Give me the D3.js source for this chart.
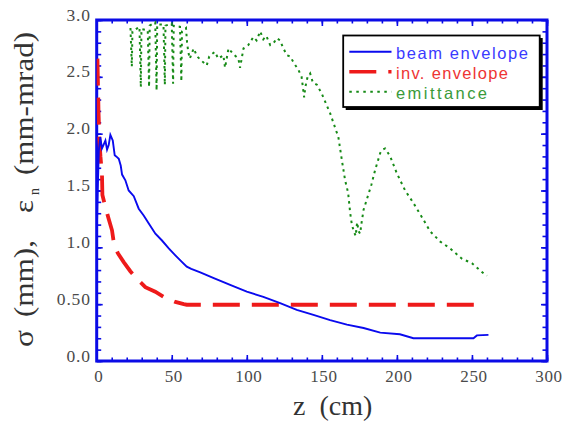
<!DOCTYPE html>
<html><head><meta charset="utf-8">
<script src="https://cdn.jsdelivr.net/npm/d3@7"></script>
<style>
html,body{margin:0;padding:0;background:#fff;}
svg{display:block;}
</style></head>
<body>
<svg id="chart" width="563" height="422"></svg>
<script>
// ---------- data ----------
const seriesNames = ["beam envelope", "inv. envelope", "emittance"];
const xTickValues = [0, 50, 100, 150, 200, 250, 300];
const yTickValues = [0, 0.5, 1.0, 1.5, 2.0, 2.5, 3.0];
const yTickLabels = ["0.0", "0.50", "1.0", "1.5", "2.0", "2.5", "3.0"];

const beamZ = [0, 0.7, 1.4, 2.4, 3.5, 4.5, 5.8, 6.9, 8, 9.1, 10.7, 12, 13, 14.7, 16, 16.9, 19.1, 21.3, 24.7, 28, 31.3, 34.7, 39.1, 43.5, 48, 52.4, 56.9, 60, 63, 69, 78, 88.9, 100, 111, 122.2, 133.3, 144.4, 155.5, 166.7, 177.8, 188.9, 202, 211, 230, 251, 253.3, 261];
const beamV = [1.1, 1.5, 1.85, 1.97, 1.87, 1.9, 1.94, 1.86, 1.9, 1.99, 1.94, 1.81, 1.8, 1.78, 1.72, 1.64, 1.59, 1.5, 1.45, 1.34, 1.28, 1.21, 1.12, 1.06, 0.99, 0.93, 0.87, 0.83, 0.81, 0.78, 0.73, 0.67, 0.61, 0.565, 0.51, 0.45, 0.405, 0.36, 0.32, 0.29, 0.25, 0.235, 0.2, 0.2, 0.2, 0.225, 0.23];

const invZ = [0.5, 1.2, 1.8, 2.5, 3.5, 3.8, 5.5, 8, 10.2, 11.3, 14, 18, 22.4, 27, 32.4, 39, 45, 52.4, 58, 60, 257];
const invV = [2.66, 2.2, 1.95, 1.8, 1.65, 1.46, 1.37, 1.25, 1.15, 1.05, 0.95, 0.87, 0.79, 0.72, 0.65, 0.61, 0.56, 0.52, 0.5, 0.495, 0.495];

const emitZ = [22.5, 23.4, 23.8, 28.5, 29.4, 29.8, 34, 34.9, 35.3, 39, 39.9, 40.3, 44.5, 45.4, 45.8, 50, 50.9, 51.3, 55.5, 56.4, 56.8, 59.5, 60.2, 61, 62, 64.6, 66.9, 70, 73.3, 75, 78.7, 81, 84.4, 85.5, 87.8, 91, 94.4, 95.5, 97.8, 101, 104.4, 106.5, 108.9, 111, 113, 115.6, 118, 120, 122.2, 124, 126.7, 128.9, 131, 134.4, 136.5, 138.2, 139, 140.5, 142.2, 144, 146.7, 150, 155.5, 161, 163.3, 165.5, 167.5, 168.9, 170, 171.1, 172.5, 173.5, 174.5, 175.5, 176.5, 177.8, 181.1, 183, 185.5, 188.9, 190.5, 192.2, 195.5, 200, 205.5, 211, 217.8, 222.2, 228.9, 235.5, 243.3, 250, 257.8, 260];
const emitV = [2.93, 2.59, 2.9, 2.94, 2.41, 2.92, 2.91, 2.41, 2.95, 2.98, 2.38, 2.96, 2.96, 2.43, 2.95, 2.97, 2.44, 2.95, 2.94, 2.46, 2.9, 2.93, 2.8, 2.72, 2.66, 2.75, 2.68, 2.64, 2.6, 2.68, 2.72, 2.66, 2.69, 2.58, 2.75, 2.7, 2.66, 2.58, 2.75, 2.78, 2.85, 2.82, 2.9, 2.83, 2.86, 2.78, 2.8, 2.84, 2.82, 2.76, 2.69, 2.68, 2.63, 2.56, 2.5, 2.32, 2.41, 2.5, 2.53, 2.45, 2.43, 2.35, 2.18, 1.97, 1.77, 1.59, 1.48, 1.3, 1.2, 1.15, 1.1, 1.22, 1.14, 1.12, 1.22, 1.33, 1.47, 1.55, 1.68, 1.83, 1.86, 1.87, 1.8, 1.65, 1.5, 1.39, 1.24, 1.14, 1.05, 0.99, 0.9, 0.86, 0.77, 0.75];

// ---------- layout ----------
const svg = d3.select("#chart");
const L = 96.7, R = 547, T = 20, B = 361;
const axisColor = "#0b0be6";
const colors = ["#0a0aee", "#ee1a1a", "#168a16"];
const textColors = ["#3a3aff", "#ee3434", "#3a9a3a"];
const serif = "'Liberation Serif','Times New Roman',Times,serif";
const sans = "'Liberation Sans',Arial,Helvetica,sans-serif";

const x = d3.scaleLinear().domain([0, 300]).range([L, R]);
const y = d3.scaleLinear().domain([0, 3]).range([B, T]);

svg.append("defs").append("clipPath").attr("id", "clip")
  .append("rect").attr("x", L).attr("y", T).attr("width", R - L).attr("height", B - T);

// ---------- ticks (inward, all 4 sides) ----------
const xMinor = d3.range(0, 301, 10);
const yMinor = d3.range(0, 31, 1).map(d => d / 10);
function tickAxis(gen, scale, vals, size, tr) {
  const g = svg.append("g").attr("transform", tr)
    .call(gen(scale).tickValues(vals).tickSize(size).tickFormat(""));
  g.select(".domain").remove();
  g.selectAll(".tick line").attr("stroke", axisColor).attr("stroke-width", 1.6);
}
tickAxis(d3.axisBottom, x, xMinor, -3.5, `translate(0,${B})`);
tickAxis(d3.axisBottom, x, xTickValues, -6, `translate(0,${B})`);
tickAxis(d3.axisTop, x, xMinor, -3.5, `translate(0,${T})`);
tickAxis(d3.axisTop, x, xTickValues, -6, `translate(0,${T})`);
tickAxis(d3.axisLeft, y, yMinor, -4.5, `translate(${L},0)`);
tickAxis(d3.axisLeft, y, yTickValues, -6, `translate(${L},0)`);
tickAxis(d3.axisRight, y, yMinor, -4.5, `translate(${R},0)`);
tickAxis(d3.axisRight, y, yTickValues, -6, `translate(${R},0)`);

// frame
svg.append("rect").attr("x", L).attr("y", T).attr("width", R - L).attr("height", B - T)
  .attr("fill", "none").attr("stroke", axisColor).attr("stroke-width", 3);

// tick labels
const xLab = svg.append("g").attr("transform", `translate(0,${B})`)
  .call(d3.axisBottom(x).tickValues(xTickValues).tickSize(0).tickPadding(0).tickFormat(d3.format("d")));
xLab.select(".domain").remove();
xLab.selectAll("text").attr("y", 21).attr("dy", 0).attr("dx", 1.5)
  .attr("font-family", serif).attr("font-size", 17).attr("fill", "#4a4a4a").attr("letter-spacing", 0.6);

const yLab = svg.append("g").attr("transform", `translate(${L},0)`)
  .call(d3.axisLeft(y).tickValues(yTickValues).tickSize(0).tickPadding(0)
    .tickFormat((d, i) => yTickLabels[i]));
yLab.select(".domain").remove();
yLab.selectAll("text").attr("x", -6).attr("dy", 0)
  .attr("font-family", serif).attr("font-size", 17.5).attr("fill", "#4a4a4a").attr("letter-spacing", 0.8);

// ---------- series ----------
const line = d3.line().x(d => x(d[0])).y(d => y(d[1]));
const plot = svg.append("g").attr("clip-path", "url(#clip)");
const beam = beamZ.map((z, i) => [z, beamV[i]]);
const inv = invZ.map((z, i) => [z, invV[i]]);
const emit = emitZ.map((z, i) => [z, emitV[i]]);

plot.append("path").datum(emit).attr("d", line).attr("fill", "none")
  .attr("stroke", colors[2]).attr("stroke-width", 2).attr("stroke-dasharray", "2.5,4");
plot.append("path").datum(inv).attr("d", line).attr("fill", "none")
  .attr("stroke", colors[1]).attr("stroke-width", 3.8).attr("stroke-dasharray", "27,12");
plot.append("path").datum(beam).attr("d", line).attr("fill", "none")
  .attr("stroke", colors[0]).attr("stroke-width", 1.9);

// ---------- legend ----------
const lg = svg.append("g");
lg.append("rect").attr("x", 345.7).attr("y", 38).attr("width", 197).attr("height", 72).attr("fill", "#000");
lg.append("rect").attr("x", 343.2).attr("y", 35.5).attr("width", 196.5).attr("height", 71.5)
  .attr("fill", "#fff").attr("stroke", "#000").attr("stroke-width", 1.8);
const dashes = [null, "27,12", "2.5,4.5"];
const widths = [1.9, 3.6, 2];
const textLens = [132, 112, 91];
seriesNames.forEach((name, i) => {
  const ly = 51.7 + i * 20;
  const ln = lg.append("line").attr("x1", 349.3).attr("x2", 391.5).attr("y1", ly).attr("y2", ly)
    .attr("stroke", colors[i]).attr("stroke-width", widths[i]);
  if (dashes[i]) ln.attr("stroke-dasharray", dashes[i]);
  lg.append("text").attr("x", 396).attr("y", ly + 7.6).text(name)
    .attr("font-family", sans).attr("font-size", 16.5).attr("fill", textColors[i])
    .attr("textLength", textLens[i]).attr("lengthAdjust", "spacing");
});

// ---------- axis titles ----------
svg.append("text").attr("x", 293).attr("y", 415).attr("xml:space", "preserve")
  .style("white-space", "pre").attr("font-family", serif).attr("font-size", 28).attr("fill", "#333")
  .text("z  (cm)");

const yl = svg.append("g").attr("transform", "translate(33,347) rotate(-90)");
const ylParts = [
  {t: "σ", s: 0, len: 17, fs: 28},
  {t: "(mm),", s: 30, len: 77, fs: 28},
  {t: "ε", s: 134, len: 13, fs: 28},
  {t: "(mm-mrad)", s: 172, len: 143, fs: 28}
];
ylParts.forEach(p => {
  yl.append("text").attr("x", p.s).attr("y", 0).text(p.t)
    .attr("font-family", serif).attr("font-size", p.fs).attr("fill", "#333")
    .attr("textLength", p.len).attr("lengthAdjust", "spacingAndGlyphs");
});
yl.append("text").attr("x", 152).attr("y", 6).text("n")
  .attr("font-family", serif).attr("font-size", 14).attr("fill", "#333");
</script>
</body></html>
